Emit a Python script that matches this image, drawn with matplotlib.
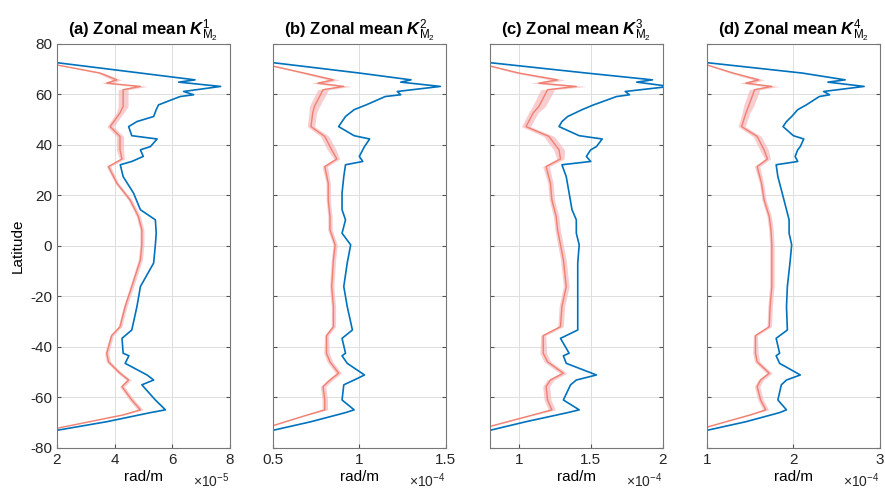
"""Zonal mean K_M2 profiles, four panels."""
import numpy as np
import matplotlib
matplotlib.use("Agg")
from matplotlib import pyplot as plt

plt.rcParams['font.family'] = ['Liberation Sans', 'DejaVu Sans']
plt.rcParams['mathtext.fontset'] = 'custom'
plt.rcParams['mathtext.rm'] = 'Liberation Sans'
plt.rcParams['mathtext.it'] = 'Liberation Sans:italic'
plt.rcParams['mathtext.bf'] = 'Liberation Sans:bold'
plt.rcParams['mathtext.bfit'] = 'Liberation Sans:italic:bold'

# latitude grids (deg) for the two curves
blue_lat = [72.5, 68.4, 65.7, 64.8, 63.1, 61.1, 59.8, 59.1, 55.8, 53.9, 51.2,
            49.2, 47.2, 43.6, 42.3, 39.3, 38.0, 35.4, 33.4, 32.1, 27.4, 20.9,
            14.3, 10.3, 5.0, 0.4, -6.8, -16.1, -24.0, -33.3, -36.6, -42.5,
            -43.5, -46.5, -51.1, -53.1, -55.0, -61.0, -64.9, -66.0, -69.6, -73.0]
red_lat = [71.6, 68.4, 65.7, 64.4, 63.1, 61.8, 55.2, 52.6, 47.2, 43.3, 38.0,
           34.4, 31.4, 24.8, 18.2, 11.6, 6.3, 0.4, -5.5, -16.1, -24.0, -32.0,
           -35.5, -42.5, -45.9, -50.4, -53.1, -55.7, -61.0, -64.9, -66.9, -72.2]

# blue curves (scaled by the panel exponent)
blue_a = [2.0, 4.9, 6.8, 6.23, 7.69, 6.4, 6.75, 6.28, 5.53, 5.45, 5.36,
          4.78, 4.49, 4.6, 5.48, 5.25, 4.9, 5.0, 4.6, 4.2, 4.3, 4.66,
          4.9, 5.42, 5.45, 5.42, 5.36, 4.9, 4.78, 4.6, 4.26, 4.3,
          4.5, 4.37, 5.13, 5.36, 4.95, 5.42, 5.77, 5.25, 3.73, 2.0]
blue_b = [0.5, 1.0, 1.30, 1.24, 1.47, 1.22, 1.24, 1.15, 1.04, 0.97, 0.92,
          0.90, 0.88, 0.97, 1.06, 1.03, 1.02, 1.0, 1.02, 0.92, 0.91, 0.90,
          0.90, 0.92, 0.90, 0.95, 0.93, 0.91, 0.93, 0.96, 0.90, 0.92,
          0.90, 0.93, 1.03, 0.97, 0.91, 0.90, 0.97, 0.92, 0.72, 0.5]
blue_c = [0.8, 1.47, 1.93, 1.82, 2.05, 1.74, 1.77, 1.68, 1.52, 1.44, 1.34,
          1.30, 1.28, 1.42, 1.58, 1.54, 1.50, 1.47, 1.50, 1.30, 1.33, 1.35,
          1.37, 1.40, 1.40, 1.42, 1.41, 1.41, 1.41, 1.41, 1.29, 1.35,
          1.31, 1.33, 1.54, 1.40, 1.36, 1.31, 1.42, 1.34, 1.05, 0.8]
blue_d = [1.0, 2.1, 2.6, 2.4, 2.82, 2.35, 2.42, 2.3, 2.15, 2.05, 1.98,
          1.92, 1.88, 2.0, 2.12, 2.08, 2.05, 2.02, 2.05, 1.8, 1.82, 1.87,
          1.92, 1.95, 1.95, 1.98, 1.96, 1.93, 1.92, 1.93, 1.80, 1.84,
          1.80, 1.84, 2.08, 1.92, 1.86, 1.82, 1.92, 1.84, 1.45, 1.0]

# red curves
red_a = [2.0, 3.5, 4.08, 3.73, 4.9, 4.3, 4.3, 4.19, 3.85, 4.19, 4.19,
         4.26, 3.79, 4.08, 4.54, 4.83, 4.95, 4.95, 4.9, 4.6, 4.37, 4.19,
         3.9, 3.73, 3.79, 4.19, 4.49, 4.26, 4.6, 4.9, 4.3, 2.0]
red_b = [0.47, 0.68, 0.85, 0.76, 0.91, 0.79, 0.74, 0.73, 0.72, 0.80, 0.84,
         0.87, 0.80, 0.82, 0.82, 0.83, 0.83, 0.86, 0.85, 0.84, 0.85, 0.85,
         0.81, 0.81, 0.83, 0.88, 0.83, 0.79, 0.80, 0.80, 0.70, 0.45]
red_c = [0.77, 1.0, 1.27, 1.14, 1.40, 1.20, 1.14, 1.10, 1.05, 1.21, 1.28,
         1.29, 1.19, 1.22, 1.23, 1.26, 1.27, 1.29, 1.31, 1.33, 1.30, 1.29,
         1.17, 1.17, 1.20, 1.31, 1.22, 1.19, 1.20, 1.23, 1.10, 0.75]
red_d = [1.0, 1.3, 1.6, 1.45, 1.75, 1.55, 1.48, 1.45, 1.40, 1.58, 1.66,
         1.70, 1.58, 1.63, 1.66, 1.72, 1.74, 1.75, 1.75, 1.75, 1.73, 1.72,
         1.56, 1.56, 1.58, 1.72, 1.62, 1.58, 1.62, 1.68, 1.50, 0.95]

# relative half-width of the pink band around the red curve
red_band = [0.01, 0.03, 0.04, 0.05, 0.05, 0.04, 0.04, 0.03, 0.03, 0.03, 0.03,
            0.02, 0.02, 0.015, 0.015, 0.015, 0.015, 0.015, 0.015, 0.015, 0.015, 0.015,
            0.015, 0.02, 0.02, 0.02, 0.02, 0.02, 0.02, 0.02, 0.01, 0.005]

titles = ["(a) Zonal mean $\\boldsymbol{K}_{\\mathrm{M}_2}^{1}$",
          "(b) Zonal mean $\\boldsymbol{K}_{\\mathrm{M}_2}^{2}$",
          "(c) Zonal mean $\\boldsymbol{K}_{\\mathrm{M}_2}^{3}$",
          "(d) Zonal mean $\\boldsymbol{K}_{\\mathrm{M}_2}^{4}$"]
xlims = [(2, 8), (0.5, 1.5), (0.8, 2), (1, 3)]
xticks = [[2, 4, 6, 8], [0.5, 1, 1.5], [1, 1.5, 2], [1, 2, 3]]
xticklabels = [["2", "4", "6", "8"], ["0.5", "1", "1.5"], ["1", "1.5", "2"], ["1", "2", "3"]]
exponents = ["-5", "-4", "-4", "-4"]
yticks = [80, 60, 40, 20, 0, -20, -40, -60, -80]

blues = [blue_a, blue_b, blue_c, blue_d]
reds = [red_a, red_b, red_c, red_d]

fig = plt.figure(figsize=(8.85, 4.93), dpi=100)
lefts = [0.0644, 0.3085, 0.5537, 0.799]

for i in range(4):
    ax = fig.add_axes([lefts[i], 0.0913, 0.195, 0.82])
    r = np.array(reds[i])
    w = r * np.array(red_band)
    ax.fill_betweenx(red_lat, r - w, r + w, color="#f6b8bd", alpha=0.7, lw=0)
    ax.plot(r, red_lat, color="#f08070", lw=1.0)
    ax.plot(blues[i], blue_lat, color="#0072bd", lw=1.2)

    ax.set_xlim(*xlims[i])
    ax.set_ylim(-80, 80)
    ax.set_xticks(xticks[i])
    ax.set_xticklabels(xticklabels[i])
    ax.set_yticks(yticks)
    if i == 0:
        ax.set_yticklabels([str(t) for t in yticks])
        ax.set_ylabel("Latitude", fontsize=11)
    else:
        ax.set_yticklabels([])
    ax.grid(True, color="#dedede", lw=0.7)
    ax.set_axisbelow(True)
    ax.tick_params(direction="in", length=3, color="#555555", labelsize=11,
                   right=True, top=False, labelcolor="#262626")
    for s in ax.spines.values():
        s.set_color("#777777")
        s.set_linewidth(0.8)
    ax.set_xlabel("rad/m", fontsize=11, labelpad=2)
    ax.text(1.0, -0.082, "$\\times$10$^{%s}$" % exponents[i], transform=ax.transAxes,
            ha="right", va="center", fontsize=10, color="#262626")
    ax.set_title(titles[i], fontsize=12, fontweight="bold", pad=6)

fig.savefig("out.png", dpi=100)
